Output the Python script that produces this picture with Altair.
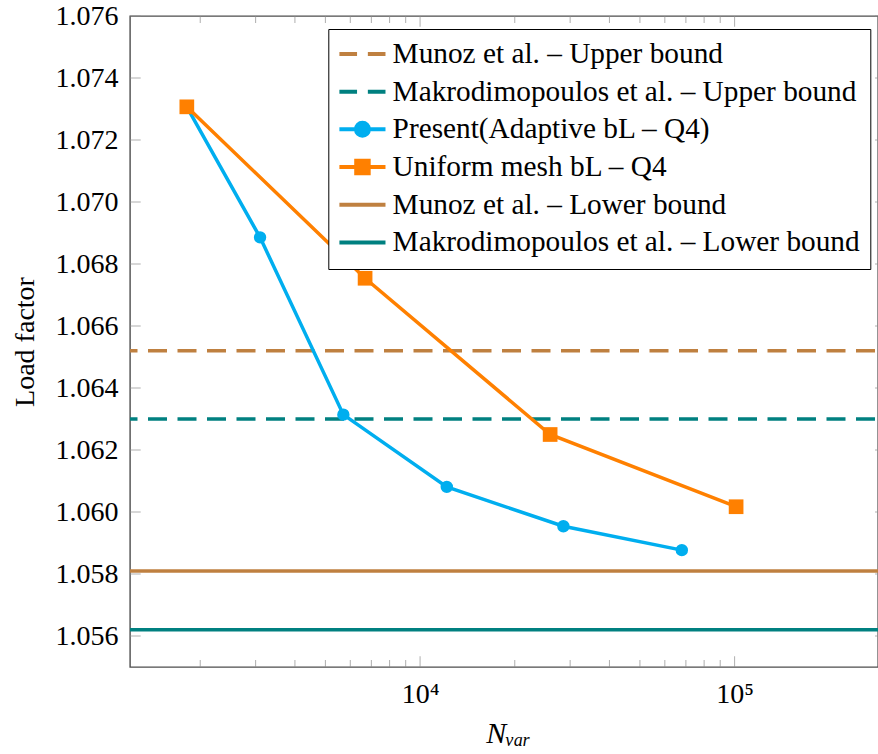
import altair as alt
import pandas as pd

# ---------------- data ----------------
series_names = [
    "Munoz et al. – Upper bound",
    "Makrodimopoulos et al. – Upper bound",
    "Present(Adaptive bL – Q4)",
    "Uniform mesh bL – Q4",
    "Munoz et al. – Lower bound",
    "Makrodimopoulos et al. – Lower bound",
]
series_colors = ["#bf8040", "#008080", "#00aeef", "#ff8000", "#bf8040", "#008080"]

nvar_adaptive = [1813, 3099, 5703, 12161, 28548, 67950]
lf_adaptive = [1.07307, 1.06886, 1.06314, 1.06081, 1.05954, 1.05877]

nvar_uniform = [1813, 6686, 25912, 101100]
lf_uniform = [1.07307, 1.06754, 1.06250, 1.06017]

upper_names = [series_names[0], series_names[1]]
upper_values = [1.0652, 1.0630]
lower_names = [series_names[4], series_names[5]]
lower_values = [1.0581, 1.0562]

y_tick_values = [1.056, 1.058, 1.060, 1.062, 1.064, 1.066, 1.068, 1.070, 1.072, 1.074, 1.076]
x_major_ticks = [10000, 100000]
x_minor_ticks = [2000, 3000, 4000, 5000, 6000, 7000, 8000, 9000,
                 20000, 30000, 40000, 50000, 60000, 70000, 80000, 90000]

# ---------------- layout ----------------
W, H = 748, 651
FONT = "Liberation Serif"

adaptive_df = pd.DataFrame({"nvar": nvar_adaptive, "lf": lf_adaptive, "series": series_names[2]})
uniform_df = pd.DataFrame({"nvar": nvar_uniform, "lf": lf_uniform, "series": series_names[3]})
upper_df = pd.DataFrame({"lf": upper_values, "series": upper_names})
lower_df = pd.DataFrame({"lf": lower_values, "series": lower_names})
legend_df = pd.DataFrame({"series": series_names})
ytick_df = pd.DataFrame({"lf": y_tick_values})
xmaj_df = pd.DataFrame({"nvar": x_major_ticks})
xmin_df = pd.DataFrame({"nvar": x_minor_ticks})

xscale = alt.Scale(type="log", domain=[1196, 285700], nice=False)
yscale = alt.Scale(domain=[1.055, 1.076], zero=False, nice=False)

x_axis = alt.Axis(
    values=x_major_ticks,
    labelExpr="datum.value == 10000 ? '10⁴' : '10⁵'",
    ticks=False, domain=False, grid=False,
    labelFont=FONT, labelFontSize=28, labelColor="black",
    labelBaseline="alphabetic", labelPadding=35,
    title="Nᵥₐᵣ", titleFont=FONT, titleFontSize=30, titleFontStyle="italic",
    titleFontWeight="normal", titleColor="black",
    titleX=378, titleY=75, titleBaseline="alphabetic", titleAlign="center",
)
y_axis = alt.Axis(
    values=y_tick_values, format=".3f",
    ticks=False, domain=False, grid=False,
    labelFont=FONT, labelFontSize=28, labelColor="black", labelPadding=12,
    title="Load factor", titleFont=FONT, titleFontSize=28, titleFontWeight="normal",
    titleColor="black", titleAngle=270, titleBaseline="alphabetic",
    titleX=-96.5, titleY=H / 2, titleAlign="center",
)

def X(field="nvar"):
    return alt.X(f"{field}:Q", scale=xscale, axis=x_axis)

def Y(field="lf"):
    return alt.Y(f"{field}:Q", scale=yscale, axis=y_axis)

# colour scale for the data marks (listed in reverse so that its hidden legend
# is not merged with the visible legend built below)
color = alt.Color("series:N",
                  scale=alt.Scale(domain=series_names[::-1], range=series_colors[::-1]),
                  legend=None)

# legend symbols: custom paths (units scaled by sqrt(size)/2 = 12 px)
dash_path = "M-1.92,0H-0.45M0.45,0H1.92"
solid_path = "M-1.92,0H1.92"
circle_path = "M-1.92,0H1.92M0.54,0A0.54,0.54,0,1,1,-0.54,0A0.54,0.54,0,1,1,0.54,0Z"
square_path = "M-1.92,0H1.92M-0.52,-0.52H0.52V0.52H-0.52Z"
sym_paths = [dash_path, dash_path, circle_path, square_path, solid_path, solid_path]

legend = alt.Legend(
    title=None, orient="none", legendX=198.3, legendY=13,
    padding=10.3, rowPadding=7.7, symbolOffset=9.2, labelOffset=15.5,
    labelFont=FONT, labelFontSize=29.3, labelColor="black", labelLimit=2000,
    strokeColor="black", fillColor="white",
    symbolSize=576, symbolStrokeWidth=4, symbolOpacity=1,
)
legend_layer = alt.Chart(legend_df).transform_filter("false").mark_point(
    filled=False, size=576, strokeWidth=4, opacity=1
).encode(
    stroke=alt.Stroke("series:N", scale=alt.Scale(domain=series_names, range=series_colors), legend=legend),
    fill=alt.Fill("series:N", scale=alt.Scale(domain=series_names, range=series_colors), legend=legend),
    shape=alt.Shape("series:N", scale=alt.Scale(domain=series_names, range=sym_paths), legend=legend),
)

upper = alt.Chart(upper_df).mark_rule(strokeWidth=3.5, strokeDash=[19, 10.5], strokeDashOffset=26.5).encode(
    y=Y(), color=color)
lower = alt.Chart(lower_df).mark_rule(strokeWidth=3.5).encode(y=Y(), color=color)

ad_line = alt.Chart(adaptive_df).mark_line(strokeWidth=3.5).encode(x=X(), y=Y(), color=color)
ad_pts = alt.Chart(adaptive_df).mark_point(filled=True, shape="circle", size=154, opacity=1).encode(
    x=X(), y=Y(), color=color)
un_line = alt.Chart(uniform_df).mark_line(strokeWidth=3.5).encode(x=X(), y=Y(), color=color)
un_pts = alt.Chart(uniform_df).mark_point(filled=True, shape="square", size=216, opacity=1).encode(
    x=X(), y=Y(), color=color)

TICK_COLOR = "#8c8c8c"
ytick_left = alt.Chart(ytick_df).mark_tick(orient="horizontal", size=10.7, thickness=1, color=TICK_COLOR).encode(
    y=Y(), x=alt.value(5.35))
ytick_right = alt.Chart(ytick_df).mark_tick(orient="horizontal", size=6, thickness=1, color=TICK_COLOR).encode(
    y=Y(), x=alt.value(W))
xmaj_bot = alt.Chart(xmaj_df).mark_tick(orient="vertical", size=10.7, thickness=1, color=TICK_COLOR).encode(
    x=X(), y=alt.value(H - 5.35))
xmaj_top = alt.Chart(xmaj_df).mark_tick(orient="vertical", size=10.7, thickness=1, color=TICK_COLOR).encode(
    x=X(), y=alt.value(5.35))
xmin_bot = alt.Chart(xmin_df).mark_tick(orient="vertical", size=7, thickness=1, color=TICK_COLOR).encode(
    x=X(), y=alt.value(H - 3.5))
xmin_top = alt.Chart(xmin_df).mark_tick(orient="vertical", size=7, thickness=1, color=TICK_COLOR).encode(
    x=X(), y=alt.value(3.5))

chart = alt.layer(
    ytick_left, ytick_right, xmaj_bot, xmaj_top, xmin_bot, xmin_top,
    upper, lower, ad_line, ad_pts, un_line, un_pts, legend_layer,
).properties(
    width=W, height=H,
    padding={"left": 130, "top": 16, "right": 0, "bottom": 87},
    autosize=alt.AutoSizeParams(type="none"),
    background="white",
).configure_view(
    stroke="#4d4d4d", strokeWidth=1.4,
).configure_axis(
    labelFont=FONT, titleFont=FONT,
).configure_legend(
    labelFont=FONT,
)

chart.save("out.html", embed_options={"renderer": "svg", "actions": False})
